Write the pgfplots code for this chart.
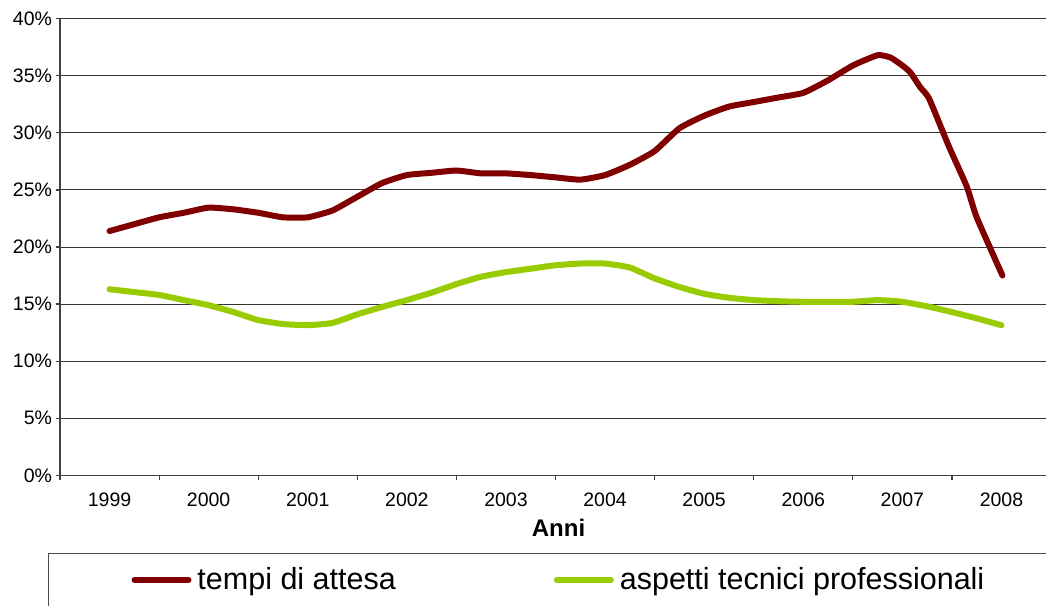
\documentclass[border=0pt]{standalone}
\usepackage{fontspec}
\setmainfont{Liberation Sans}
\usepackage{pgfplots}
\pgfplotsset{compat=1.18}
\usepackage{pgfplotstable}
\definecolor{attesa}{HTML}{800000}
\definecolor{tecnici}{HTML}{99CC00}

\pgfplotstableread{
x y
0.00 21.4
0.25 22.0
0.50 22.6
0.75 23.0
1.00 23.45
1.25 23.3
1.50 23.0
1.75 22.6
2.00 22.6
2.25 23.2
2.50 24.4
2.75 25.6
3.00 26.3
3.25 26.5
3.50 26.7
3.75 26.45
4.00 26.45
4.25 26.3
4.50 26.1
4.75 25.9
5.00 26.3
5.25 27.2
5.50 28.4
5.75 30.4
6.00 31.5
6.25 32.3
6.50 32.7
6.75 33.1
7.00 33.5
7.25 34.6
7.50 35.9
7.75 36.8
7.88 36.6
8.00 35.9
8.08 35.3
8.18 34.0
8.27 33.0
8.47 28.8
8.65 25.3
8.75 22.6
9.01 17.5
}\attesadata

\pgfplotstableread{
x y
0.00 16.3
0.25 16.05
0.50 15.8
0.75 15.35
1.00 14.9
1.25 14.3
1.50 13.6
1.75 13.25
2.00 13.15
2.25 13.35
2.50 14.1
2.75 14.75
3.00 15.35
3.25 16.0
3.50 16.75
3.75 17.4
4.00 17.8
4.25 18.1
4.50 18.4
4.75 18.55
5.00 18.55
5.25 18.2
5.50 17.25
5.75 16.5
6.00 15.9
6.25 15.55
6.50 15.35
6.75 15.25
7.00 15.2
7.25 15.2
7.50 15.2
7.75 15.35
8.00 15.2
8.25 14.8
8.50 14.3
8.75 13.75
9.00 13.15
}\tecnicidata

\begin{document}
\begin{tikzpicture}
\path[use as bounding box, clip] (-60pt,-129.7pt) rectangle (986pt,475.3pt);
\begin{axis}[
  at={(0pt,0pt)}, anchor=south west,
  width=991pt, height=456.6pt, scale only axis,
  xmin=-0.5, xmax=9.5, ymin=0, ymax=40,
  axis x line*=bottom, axis y line*=left,
  axis line style={black!75, line width=1.5pt},
  xtick={-0.5,0.5,...,9.5},
  x tick label as interval,
  xticklabels={1999,2000,2001,2002,2003,2004,2005,2006,2007,2008},
  ytick={0,5,...,40},
  yticklabel={\pgfmathprintnumber{\tick}\%},
  /pgf/number format/assume math mode=true,
  tick align=outside, tick pos=left,
  major tick length=4.5pt,
  tick style={black!75, line width=1.2pt},
  tick label style={font=\fontsize{19.5}{20}\selectfont},
  xticklabel style={yshift=-10pt},
  ymajorgrids,
  major grid style={black!80, line width=1pt},
  xlabel={Anni},
  xlabel style={font=\bfseries\fontsize{24}{24}\selectfont, xshift=3pt, yshift=-5pt},
  legend style={at={(0,0)}, anchor=north west, xshift=-12pt, yshift=-78pt,
    draw=black!70, line width=1pt, inner xsep=80pt, inner ysep=12pt,
    font=\fontsize{30.5}{31}\selectfont, legend columns=2,
    /tikz/every even column/.append style={column sep=153pt}},
  legend image code/.code={\draw[#1, line width=6pt, line cap=round] (3pt,0pt) -- (57pt,0pt);
    \path (61pt,0pt) (0pt,-16pt);},
]
\addplot[attesa, line width=6pt, line cap=round, line join=round, smooth, tension=0.3] table[x=x,y=y] {\attesadata};
\addlegendentry{tempi di attesa}
\addplot[tecnici, line width=6pt, line cap=round, line join=round, smooth, tension=0.3] table[x=x,y=y] {\tecnicidata};
\addlegendentry{aspetti tecnici professionali\hspace{80pt}}
\end{axis}
\end{tikzpicture}
\end{document}
